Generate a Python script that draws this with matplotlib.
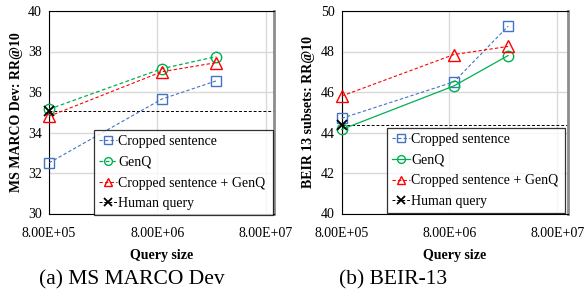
import matplotlib
matplotlib.use("Agg")
import matplotlib.pyplot as plt
from matplotlib.ticker import FixedLocator, FuncFormatter, NullLocator

plt.rcParams['font.family'] = ['Liberation Serif', 'DejaVu Serif']

query_size = [8.0e5, 8.8e6, 2.8e7]
xticks = [8e5, 8e6, 8e7]

# (a) MS MARCO Dev
msm_cropped = [32.5, 35.65, 36.55]
msm_genq = [35.15, 37.15, 37.75]
msm_both = [34.8, 37.0, 37.45]
msm_human = 35.05

# (b) BEIR-13
beir_cropped = [44.7, 46.5, 49.25]
beir_genq = [44.15, 46.3, 47.8]
beir_both = [45.8, 47.85, 48.25]
beir_human = 44.35

labels = ["Cropped sentence", "GenQ", "Cropped sentence + GenQ", "Human query"]
BLUE, GREEN, RED = "#4472C4", "#00B050", "#FF0000"

fig = plt.figure(figsize=(5.85, 3.0), dpi=100)

def make_panel(rect, cropped, genq, both, human, ylim, yticks, ylabel,
               genq_ls, xmax, legend_rect, caption, cap_x):
    ax = fig.add_axes(rect)
    ax.set_xscale('log')
    ax.set_xlim(8e5, xmax)
    ax.set_ylim(*ylim)
    ax.xaxis.set_major_locator(FixedLocator(xticks))
    ax.xaxis.set_minor_locator(NullLocator())
    ax.xaxis.set_major_formatter(FuncFormatter(lambda v, p: f"{v:.2E}"))
    ax.set_yticks(yticks)
    ax.grid(True, color="#D9D9D9", linewidth=1.0)
    ax.set_axisbelow(True)
    ax.tick_params(axis='x', length=0, labelsize=10, pad=10)
    ax.tick_params(axis='y', length=0, labelsize=10, pad=5)
    for s in ax.spines.values():
        s.set_color('black')
        s.set_linewidth(0.8)
    ax.spines['right'].set_color('#8C8C8C')
    ax.spines['right'].set_linewidth(2.0)

    ms = 7.5
    ax.axhline(human, color='black', linestyle=(0, (3, 2)), linewidth=0.7, zorder=2)
    h1, = ax.plot(query_size, cropped, color=BLUE, linestyle=(0, (3, 2)), linewidth=0.8,
                  marker='s', markersize=ms, markerfacecolor='none', markeredgecolor=BLUE,
                  markeredgewidth=1.0, label=labels[0], zorder=3)
    h2, = ax.plot(query_size, genq, color=GREEN, linestyle=genq_ls, linewidth=0.9,
                  marker='o', markersize=ms, markerfacecolor='none', markeredgecolor=GREEN,
                  markeredgewidth=1.0, label=labels[1], zorder=3)
    h3, = ax.plot(query_size, both, color=RED, linestyle=(0, (3, 2)), linewidth=0.8,
                  marker='^', markersize=ms + 1, markerfacecolor='none', markeredgecolor=RED,
                  markeredgewidth=1.0, label=labels[2], zorder=3)
    h4, = ax.plot([query_size[0]], [human], color='black', linestyle=(0, (3, 2)), linewidth=0.7,
                  marker='x', markersize=ms, markeredgewidth=1.3, label=labels[3], zorder=4)
    for h in (h1, h2, h3, h4):
        h.set_clip_on(False)

    ax.set_ylabel(ylabel, fontsize=10, fontweight='bold', labelpad=4)
    ax.set_xlabel("Query size", fontsize=10, fontweight='bold', labelpad=6)

    leg = ax.legend(handles=[h1, h2, h3, h4], loc='lower left',
                    bbox_to_anchor=legend_rect, bbox_transform=fig.transFigure,
                    mode='expand', fontsize=10, handlelength=1.3, handletextpad=0.1,
                    borderpad=0.35, labelspacing=0.55, fancybox=False, frameon=True,
                    borderaxespad=0, markerscale=0.75)
    leg.get_frame().set_edgecolor('black')
    leg.get_frame().set_linewidth(0.9)
    fig.text(cap_x, 1 - 280 / 300, caption, fontsize=15.5, ha='center', va='center')
    return ax

W, H = 585, 300
def rect(l, t, r, b):
    return [l / W, 1 - b / H, (r - l) / W, (b - t) / H]

make_panel(rect(49, 11, 274, 213.5), msm_cropped, msm_genq, msm_both, msm_human,
           (30, 40), [30, 32, 34, 36, 38, 40], "MS MARCO Dev: RR@10",
           (0, (3, 2)), 9.55e7, rect(94, 130, 273, 215), "(a) MS MARCO Dev", 131.5 / W)
make_panel(rect(341.7, 11, 567.7, 213.5), beir_cropped, beir_genq, beir_both, beir_human,
           (40, 50), [40, 42, 44, 46, 48, 50], "BEIR 13 subsets: RR@10",
           '-', 1.0e8, rect(387, 130, 565, 213), "(b) BEIR-13", 393 / W)

fig.savefig("out.png", dpi=100)
